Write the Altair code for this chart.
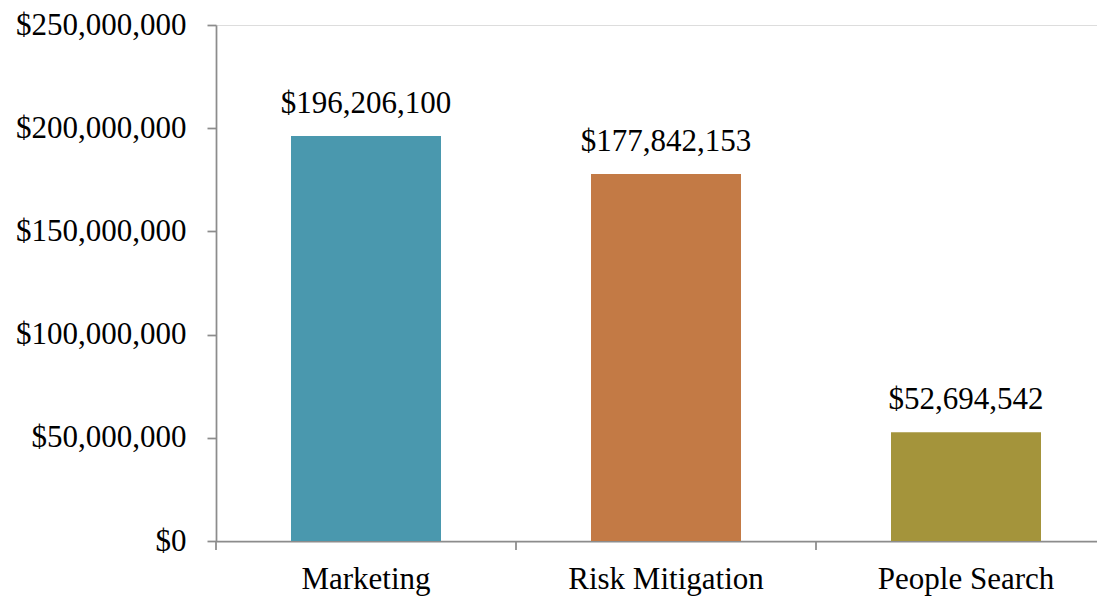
import altair as alt
import pandas as pd

categories = ["Marketing", "Risk Mitigation", "People Search"]
values = [196206100, 177842153, 52694542]
colors = ["#4A98AE", "#C37A45", "#A4943B"]
y_ticks = [0, 50000000, 100000000, 150000000, 200000000, 250000000]

df = pd.DataFrame({"category": categories, "value": values})

FONT = "Liberation Serif"
AXIS_GREY = "#8c8c8c"

x_scale = alt.Scale(domain=categories, range=[0, 900], paddingInner=0, paddingOuter=0)
y_scale = alt.Scale(domain=[0, 250000000], nice=False)

bars = alt.Chart(df).mark_bar(size=150).encode(
    x=alt.X("category:N", scale=x_scale, sort=categories,
            axis=alt.Axis(title=None, ticks=False, labelPadding=47, labelLimit=400,
                          labelBaseline="alphabetic", labelAngle=0,
                          labelFont=FONT, labelFontSize=31, labelColor="#000000",
                          domainColor=AXIS_GREY, domainWidth=1.75)),
    y=alt.Y("value:Q", scale=y_scale,
            axis=alt.Axis(title=None, values=y_ticks, format="$,.0f",
                          grid=False, tickSize=9, tickColor=AXIS_GREY, tickWidth=1.75,
                          domainColor=AXIS_GREY, domainWidth=1.75, labelLimit=400,
                          labelPadding=21, labelFont=FONT, labelFontSize=31,
                          labelColor="#000000")),
    color=alt.Color("category:N", scale=alt.Scale(domain=categories, range=colors), legend=None),
)

labels = alt.Chart(df).mark_text(
    baseline="alphabetic", align="center", dy=-23, font=FONT, fontSize=31, color="#000000"
).encode(
    x=alt.X("category:N", scale=x_scale, sort=categories),
    y=alt.Y("value:Q", scale=y_scale),
    text=alt.Text("value:Q", format="$,.0f"),
)

ticks = alt.Chart(df).mark_rule(color=AXIS_GREY, strokeWidth=1.75).encode(
    x=alt.X("category:N", scale=x_scale, sort=categories, bandPosition=0),
    y=alt.value(516),
    y2=alt.value(525),
)

chart = alt.layer(bars, ticks, labels).properties(
    width=881, height=516,
    autosize=alt.AutoSizeParams(type="none"),
    padding={"left": 208, "top": 17, "right": 0, "bottom": 55},
).configure_view(stroke=None).configure(background="#ffffff")

chart.save("out.html", embed_options={"renderer": "svg", "actions": False})
